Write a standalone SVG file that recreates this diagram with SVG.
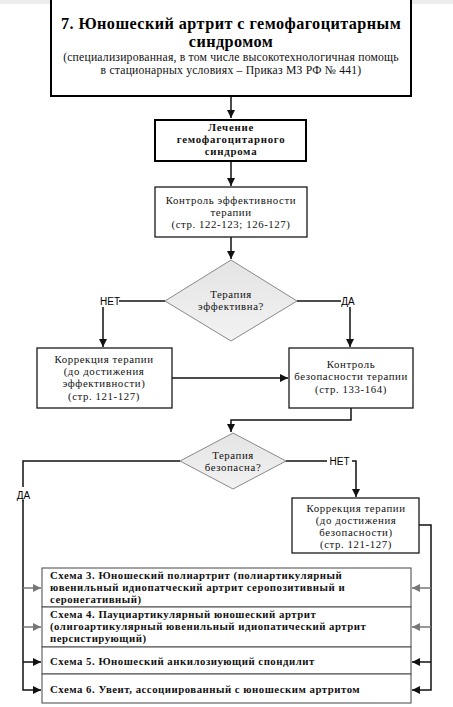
<svg xmlns="http://www.w3.org/2000/svg" width="453" height="707" viewBox="0 0 453 707">
<style>
.bx{fill:#fff;stroke:#1a1a1a;stroke-width:1.3}
.bxt{fill:#fff;stroke:#000;stroke-width:2}
.sb{fill:#fff;stroke:#555;stroke-width:1.1}
.dm{fill:url(#dg);stroke:#888;stroke-width:1}
.t{font-family:"Liberation Serif","Times New Roman","DejaVu Serif",serif;font-size:10.8px;letter-spacing:0.6px;fill:#111;text-anchor:middle}
.tb{font-family:"Liberation Serif","Times New Roman","DejaVu Serif",serif;font-size:10.8px;font-weight:bold;letter-spacing:0.75px;fill:#111;text-anchor:middle}
.ts{font-family:"Liberation Serif","Times New Roman","DejaVu Serif",serif;font-size:10.8px;font-weight:bold;letter-spacing:0.5px;fill:#111}
.h{font-family:"Liberation Serif","Times New Roman","DejaVu Serif",serif;font-size:16.2px;font-weight:bold;letter-spacing:0.45px;fill:#000;text-anchor:middle}
.hs{font-family:"Liberation Serif","Times New Roman","DejaVu Serif",serif;font-size:11.7px;letter-spacing:0.2px;fill:#111;text-anchor:middle}
.lb{font-family:"Liberation Sans",Arial,sans-serif;font-size:10px;fill:#000;text-anchor:middle}
.c{fill:none;stroke:#111;stroke-width:1.5}
.cg{fill:none;stroke:#777;stroke-width:1.5}
</style>
<defs>
<linearGradient id="dg" x1="0" y1="0" x2="0" y2="1">
<stop offset="0" stop-color="#e4e4e4"/>
<stop offset="1" stop-color="#f2f2f2"/>
</linearGradient>
<marker id="a" markerUnits="userSpaceOnUse" markerWidth="9" markerHeight="8" refX="8" refY="4" orient="auto">
<path d="M0,0 L8,4 L0,8 z" fill="#111"/>
</marker>
<marker id="ag" markerUnits="userSpaceOnUse" markerWidth="9" markerHeight="8" refX="8" refY="4" orient="auto">
<path d="M0,0 L8,4 L0,8 z" fill="#777"/>
</marker>
</defs>
<rect x="0" y="0" width="453" height="707" fill="#fff"/>
<rect x="0" y="0" width="453" height="4" fill="#ececec"/>

<g id="connectors">
<path class="c" d="M231,97 V118" marker-end="url(#a)"/>
<path class="c" d="M231,161 V186" marker-end="url(#a)"/>
<path class="c" d="M231,237 V259" marker-end="url(#a)"/>
<path class="c" d="M165,301 H119"/>
<path class="c" d="M103,307 V347" marker-end="url(#a)"/>
<path class="c" d="M297,301 H341"/>
<path class="c" d="M350,307 V347" marker-end="url(#a)"/>
<path class="c" d="M172,378 H288" marker-end="url(#a)"/>
<path class="c" d="M351,408 V420 H231 V432" marker-end="url(#a)"/>
<path class="c" d="M180,461 H23 V690 H41" marker-end="url(#a)"/>
<path class="cg" d="M23,588 H41" marker-end="url(#ag)"/>
<path class="cg" d="M23,627 H41" marker-end="url(#ag)"/>
<path class="c" d="M23,662 H41" marker-end="url(#a)"/>
<path class="c" d="M286,461 H327"/>
<path class="c" d="M352,461 H356 V497" marker-end="url(#a)"/>
<path class="c" d="M419,525 H431 V690 H412" marker-end="url(#a)"/>
<path class="cg" d="M431,588 H412" marker-end="url(#ag)"/>
<path class="cg" d="M431,627 H412" marker-end="url(#ag)"/>
<path class="c" d="M431,662 H412" marker-end="url(#a)"/>
<rect x="15" y="487" width="17" height="13" fill="#fff"/>
<text class="lb" x="110" y="304.5">НЕТ</text>
<text class="lb" x="348" y="304.5">ДА</text>
<text class="lb" x="339.5" y="464.5">НЕТ</text>
<text class="lb" x="23.5" y="498.5">ДА</text>
</g>

<g id="n-title">
<rect class="bxt" x="51" y="-5" width="360" height="101"/>
<text class="h" x="231" y="29">7. Юношеский артрит с гемофагоцитарным</text>
<text class="h" x="231" y="47">синдромом</text>
<text class="hs" x="231" y="61">(специализированная, в том числе высокотехнологичная помощь</text>
<text class="hs" x="231" y="74">в стационарных условиях – Приказ МЗ РФ № 441)</text>
</g>

<g id="n-treatment">
<rect class="bxt" x="155" y="120" width="151" height="41"/>
<text class="tb" x="231" y="131">Лечение</text>
<text class="tb" x="231" y="143">гемофагоцитарного</text>
<text class="tb" x="231" y="155">синдрома</text>
</g>

<g id="n-efficacy-control">
<rect class="bx" x="155" y="187" width="152" height="50"/>
<text class="t" x="231" y="204">Контроль эффективности</text>
<text class="t" x="231" y="216">терапии</text>
<text class="t" x="231" y="228">(стр. 122-123; 126-127)</text>
</g>

<g id="n-effective">
<polygon class="dm" points="231,260 297,301 231,341 165,301"/>
<text class="t" x="231" y="298">Терапия</text>
<text class="t" x="231" y="310">эффективна?</text>
</g>

<g id="n-correct-eff">
<rect class="bx" x="37" y="348" width="135" height="60"/>
<text class="t" x="104" y="363">Коррекция терапии</text>
<text class="t" x="104" y="375">(до достижения</text>
<text class="t" x="104" y="387">эффективности)</text>
<text class="t" x="104" y="400">(стр. 121-127)</text>
</g>

<g id="n-safety-control">
<rect class="bx" x="289" y="348" width="124" height="60"/>
<text class="t" x="351" y="368">Контроль</text>
<text class="t" x="351" y="380">безопасности терапии</text>
<text class="t" x="351" y="393">(стр. 133-164)</text>
</g>

<g id="n-safe">
<polygon class="dm" points="233,433 286,461 233,489 180,461"/>
<text class="t" x="233" y="459">Терапия</text>
<text class="t" x="233" y="471">безопасна?</text>
</g>

<g id="n-correct-safe">
<rect class="bx" x="292" y="498" width="127" height="55"/>
<text class="t" x="356" y="512">Коррекция терапии</text>
<text class="t" x="356" y="524">(до достижения</text>
<text class="t" x="356" y="536">безопасности)</text>
<text class="t" x="356" y="548">(стр. 121-127)</text>
</g>

<g id="n-scheme3">
<rect class="sb" x="42" y="568" width="369" height="39"/>
<text class="ts" x="50" y="579">Схема 3. Юношеский полиартрит (полиартикулярный</text>
<text class="ts" x="50" y="591">ювенильный идиопатческий артрит серопозитивный и</text>
<text class="ts" x="50" y="603">серонегативный)</text>
</g>

<g id="n-scheme4">
<rect class="sb" x="42" y="607" width="369" height="40"/>
<text class="ts" x="50" y="618">Схема 4. Пауциартикулярный юношеский артрит</text>
<text class="ts" x="50" y="630">(олигоартикулярный ювенильный идиопатический артрит</text>
<text class="ts" x="50" y="642">персистирующий)</text>
</g>

<g id="n-scheme5">
<rect class="sb" x="42" y="647" width="369" height="27"/>
<text class="ts" x="50" y="665">Схема 5. Юношеский анкилозиующий спондилит</text>
</g>

<g id="n-scheme6">
<rect class="sb" x="42" y="674" width="369" height="29"/>
<text class="ts" x="50" y="693">Схема 6. Увеит, ассоциированный с юношеским артритом</text>
</g>
</svg>
